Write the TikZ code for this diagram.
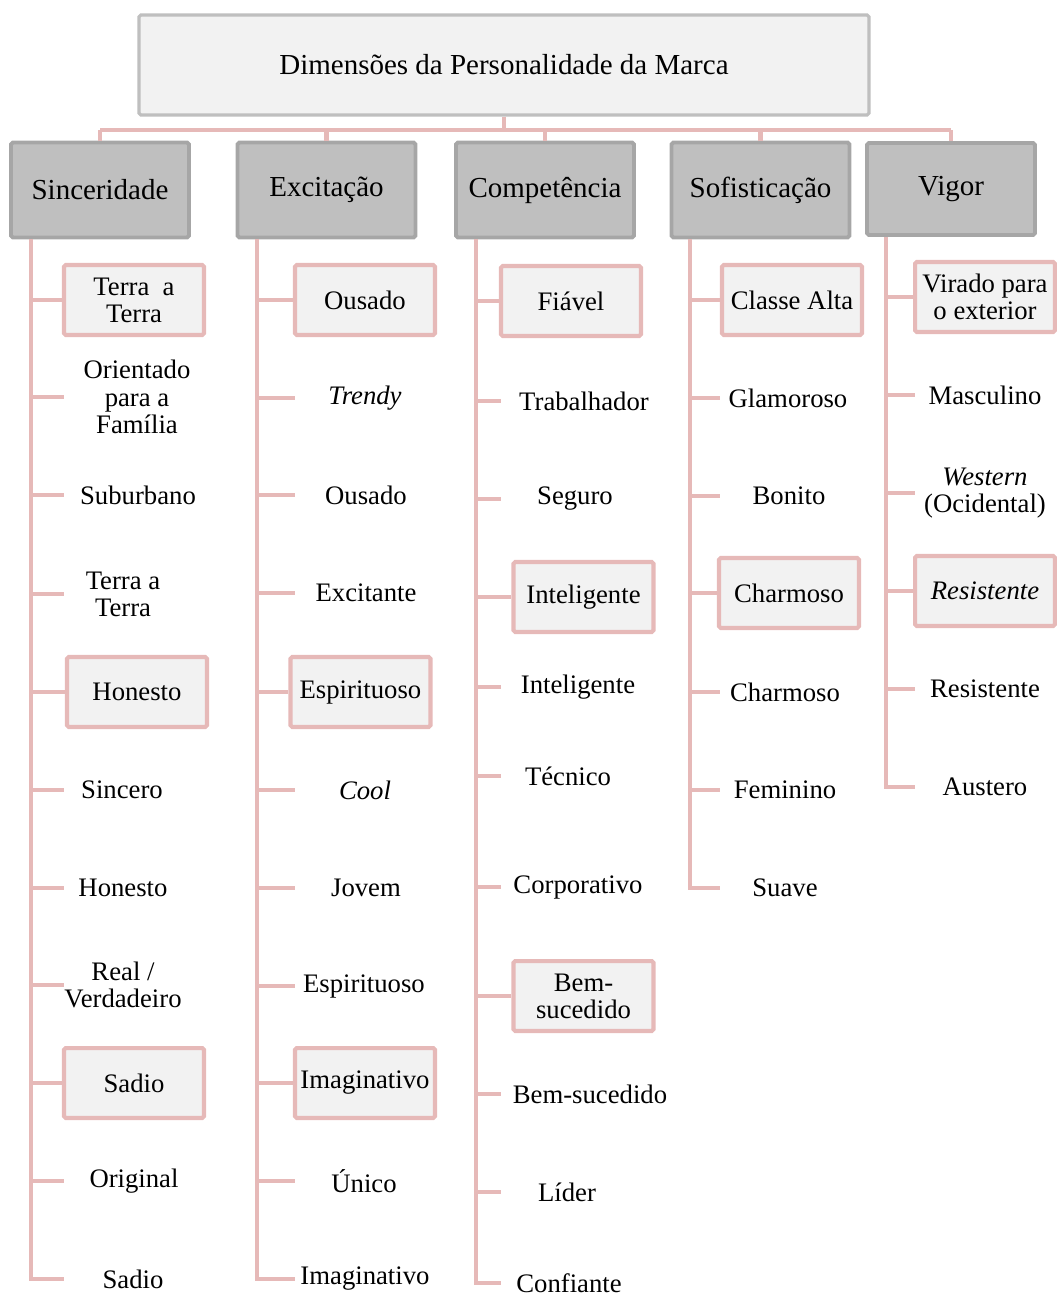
\documentclass[tikz,border=0pt]{standalone}
\usepackage{fontspec}
\setmainfont{Liberation Serif}
\definecolor{pinkline}{HTML}{E6B9B8}
\definecolor{lightfill}{HTML}{F2F2F2}
\definecolor{catfill}{HTML}{BFBFBF}
\definecolor{catline}{HTML}{A6A6A6}
\tikzset{
  link/.style={draw=pinkline, line width=2.3pt},
  mainbox/.style={draw=catfill, fill=lightfill, line width=1.8pt, rounded corners=1pt,
    minimum width=14.6cm, minimum height=2cm, font=\fontsize{16.5}{18}\selectfont},
  catbox/.style={draw=catline, fill=catfill, line width=2.2pt, rounded corners=1pt,
    minimum width=3.56cm, minimum height=1.9cm, font=\fontsize{16.5}{18}\selectfont},
  itembox/.style={draw=pinkline, fill=lightfill, line width=2.3pt, rounded corners=1pt,
    minimum width=2.8cm, minimum height=1.4cm, inner sep=1pt, align=center,
    font=\fontsize{15.2}{15.5}\selectfont},
  itemtxt/.style={inner sep=1pt, align=center, font=\fontsize{15.2}{15.5}\selectfont}
}
\begin{document}
\begin{tikzpicture}[x=0.02cm, y=-0.02cm]
  \useasboundingbox (0,0) rectangle (1057,1299);

  % top and categories
  \node[mainbox] (main) at (504,65) {Dimensões da Personalidade da Marca};
  \node[catbox] (sinc) at (100,190) {Sinceridade};
  \node[catbox] (exc) at (326.5,190) {Excitação};
  \node[catbox] (comp) at (545,190) {Competência};
  \node[catbox] (sof) at (760.5,190) {Sofisticação};
  \node[catbox, minimum width=3.36cm, minimum height=1.84cm] (vig) at (951,189) {Vigor};

  \coordinate (bus) at (0,130);
  \draw[link] (main.south) -- (main.south |- bus);
  \draw[link] (sinc.north |- bus) -- (vig.north |- bus);
  \foreach \c in {sinc,exc,comp,sof,vig}
    \draw[link] (\c.north) -- (\c.north |- bus);

  % spine and tick ends per column
  \coordinate (sinc-spine) at (31,0);  \coordinate (sinc-tip) at (64,0);
  \coordinate (exc-spine) at (257,0);  \coordinate (exc-tip) at (295,0);
  \coordinate (comp-spine) at (476,0); \coordinate (comp-tip) at (501,0);
  \coordinate (sof-spine) at (690,0);  \coordinate (sof-tip) at (720,0);
  \coordinate (vig-spine) at (886,0);  \coordinate (vig-tip) at (915,0);

  % Sinceridade
  \foreach \n/\x/\y/\t in {s1/134/300/{Terra\ \ a\\Terra}, s5/137/692/Honesto, s9/134/1083/Sadio}
    \node[itembox] (\n) at (\x,\y) {\t};
  \foreach \n/\x/\y/\t in {s2/137/397/{Orientado\\para a\\Família}, s3/138/495/Suburbano,
      s4/123/594/{Terra a\\Terra}, s6/122/790/Sincero, s7/123/888/Honesto,
      s8/123/985/{Real \slash\\Verdadeiro}, s10/134/1181/Original, s11/133/1279/Sadio}
    \node[itemtxt] (\n) at (\x,\y) {\t};
  \draw[link] (sinc.south -| sinc-spine) |- (s11 -| sinc-tip);
  \foreach \n in {s1,s5,s9}
    \draw[link] (\n -| sinc-spine) -- (\n.west);
  \foreach \n in {s2,s3,s4,s6,s7,s8,s10}
    \draw[link] (\n -| sinc-spine) -- (\n -| sinc-tip);

  % Excitacao
  \foreach \n/\x/\y/\t in {e1/365/300/Ousado, e5/360.5/692/Espirituoso, e9/365/1083/Imaginativo}
    \node[itembox] (\n) at (\x,\y) {\t};
  \foreach \n/\x/\y/\t in {e2/365/398/\textit{Trendy}, e3/366/495/Ousado, e4/366/593/Excitante,
      e6/365/790/\textit{Cool}, e7/366/888/Jovem, e8/364/986/Espirituoso,
      e10/364/1181/Único, e11/365/1279/Imaginativo}
    \node[itemtxt] (\n) at (\x,\y) {\t};
  \draw[link] (exc.south -| exc-spine) |- (e11 -| exc-tip);
  \foreach \n in {e1,e5,e9}
    \draw[link] (\n -| exc-spine) -- (\n.west);
  \foreach \n in {e2,e3,e4,e6,e7,e8,e10}
    \draw[link] (\n -| exc-spine) -- (\n -| exc-tip);

  % Competencia
  \foreach \n/\x/\y/\t in {c1/571/301/Fiável, c4/583.5/597/Inteligente, c8/583.5/996/{Bem-\\sucedido}}
    \node[itembox] (\n) at (\x,\y) {\t};
  \foreach \n/\x/\y/\t in {c2/584/401/Trabalhador, c3/575/499/Seguro, c5/578/687/Inteligente,
      c6/568/776/Técnico, c7/578/887/Corporativo, c9/590/1094/Bem-sucedido,
      c10/567/1192/Líder, c11/569/1283/Confiante}
    \node[itemtxt] (\n) at (\x,\y) {\t};
  \draw[link] (comp.south -| comp-spine) |- (c11 -| comp-tip);
  \foreach \n in {c1,c4,c8}
    \draw[link] (\n -| comp-spine) -- (\n.west);
  \foreach \n in {c2,c3,c5,c6,c7,c9,c10}
    \draw[link] (\n -| comp-spine) -- (\n -| comp-tip);

  % Sofisticacao
  \foreach \n/\x/\y/\t in {f1/792/300/Classe Alta, f4/789/593/Charmoso}
    \node[itembox] (\n) at (\x,\y) {\t};
  \foreach \n/\x/\y/\t in {f2/788/398/Glamoroso, f3/789/496/Bonito, f5/785/692/Charmoso,
      f6/785/790/Feminino, f7/785/888/Suave}
    \node[itemtxt] (\n) at (\x,\y) {\t};
  \draw[link] (sof.south -| sof-spine) |- (f7 -| sof-tip);
  \foreach \n in {f1,f4}
    \draw[link] (\n -| sof-spine) -- (\n.west);
  \foreach \n in {f2,f3,f5,f6}
    \draw[link] (\n -| sof-spine) -- (\n -| sof-tip);

  % Vigor
  \foreach \n/\x/\y/\t in {v1/985/297/{Virado para\\o exterior}, v4/985/591/\textit{Resistente}}
    \node[itembox] (\n) at (\x,\y) {\t};
  \foreach \n/\x/\y/\t in {v2/985/395/Masculino, v3/985/493/{\textit{Western}\\(Ocidental)},
      v5/985/689/Resistente, v6/985/787/Austero}
    \node[itemtxt] (\n) at (\x,\y) {\t};
  \draw[link] (vig.south -| vig-spine) |- (v6 -| vig-tip);
  \foreach \n in {v1,v4}
    \draw[link] (\n -| vig-spine) -- (\n.west);
  \foreach \n in {v2,v3,v5}
    \draw[link] (\n -| vig-spine) -- (\n -| vig-tip);
\end{tikzpicture}
\end{document}
